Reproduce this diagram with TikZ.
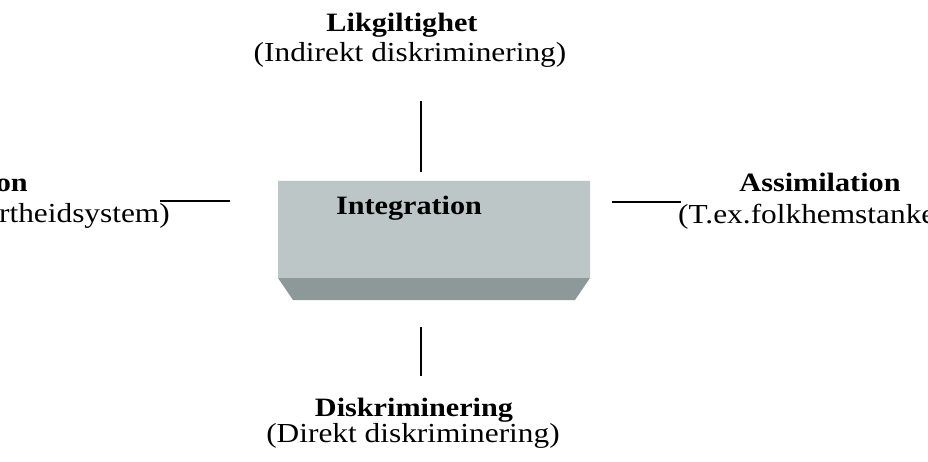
\documentclass[tikz,border=0pt]{standalone}
\usepackage{fontspec}
\setmainfont{Liberation Serif}[FakeStretch=1.14]
\definecolor{FaceGray}{HTML}{BCC6C6}
\definecolor{BaseGray}{HTML}{8D9999}

\tikzset{
  lbl/.style={inner sep=0pt, anchor=base, font=\fontsize{27.5}{33}\selectfont},
  hd/.style={lbl, font=\fontsize{26.5}{33}\selectfont\bfseries},
  tick/.style={line width=1.3pt}
}

\begin{document}
\begin{tikzpicture}[x=1pt, y=-1pt]
        \useasboundingbox (0,0) rectangle (928,462);
        % the block
        \fill[BaseGray] (278,278) -- (590,278) -- (575,300) -- (293,300) -- cycle;
        \fill[FaceGray] (278,180) rectangle (590,278);
        \draw[white!85!FaceGray, line width=0.8pt] (278,180) -- (590,180) -- (590,278);
        \node[hd] (integ) at (409,215) {Integration};
        % top
        \node[hd] (likg) at (402,32) {Likgiltighet};
        \node[lbl] (indir) at (410,62) {(Indirekt diskriminering)};
        % bottom
        \node[hd] (diskr) at (414,416) {Diskriminering};
        \node[lbl] (direkt) at (413,442) {(Direkt diskriminering)};
        % left, cut off at the border
        \node[hd, anchor=base east] (segr) at (28,192) {on};
        \node[lbl, anchor=base east] (apart) at (170,223) {rtheidsystem)};
        % right, cut off at the border
        \node[hd] (assim) at (820,192) {Assimilation};
        \node[lbl, anchor=base west] (folk) at (678,224) {(T.ex.folkhemstanke};
        % ticks
        \coordinate (ntop) at (421,101);
        \coordinate (nbot) at (421,172);
        \coordinate (stop) at (421,327);
        \coordinate (sbot) at (421,376);
        \coordinate (wl) at (160,201);
        \coordinate (wr) at (230,201);
        \coordinate (el) at (612,202);
        \coordinate (er) at (681,202);
        \draw[tick] (ntop) -- (nbot);
        \draw[tick] (stop) -- (sbot);
        \draw[tick] (wl) -- (wr);
        \draw[tick] (el) -- (er);
      \end{tikzpicture}
\end{document}
